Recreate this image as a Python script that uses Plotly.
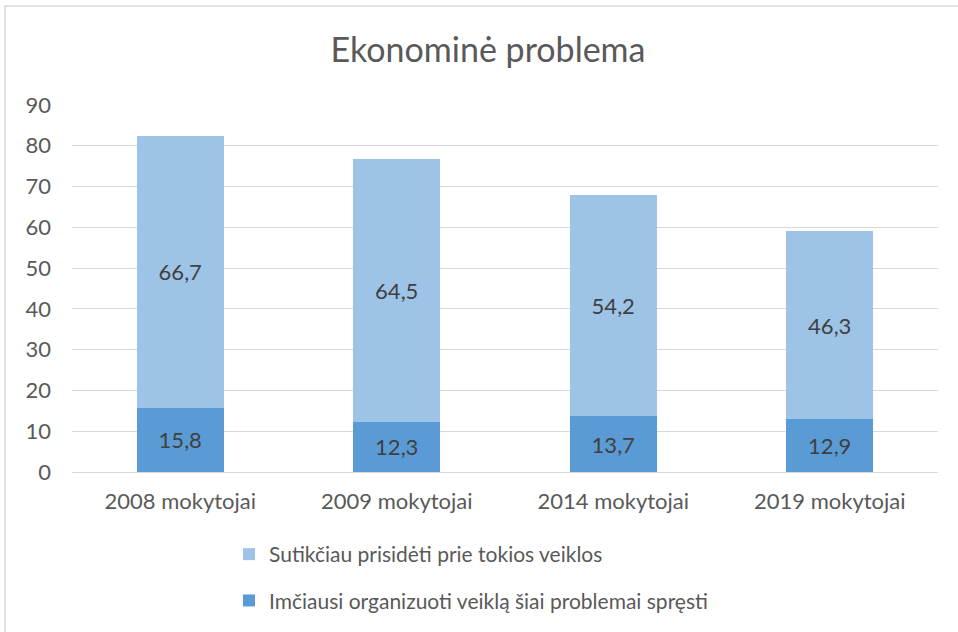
import plotly.graph_objects as go

categories = ["2008 mokytojai", "2009 mokytojai", "2014 mokytojai", "2019 mokytojai"]
organizavo = [15.8, 12.3, 13.7, 12.9]
prisidetu = [66.7, 64.5, 54.2, 46.3]
name_org = "Imčiausi organizuoti veiklą šiai problemai spręsti"
name_pri = "Sutikčiau prisidėti prie tokios veiklos"
title = "Ekonominė problema"

FONT = "Lato"
TXT = "#595959"

def fmt(v):
    return f"{v:.1f}".replace(".", ",")

fig = go.Figure()
fig.add_trace(go.Bar(
    x=categories, y=organizavo, name=name_org, legendgroup="a", legendrank=2,
    marker=dict(color="#5B9BD5", line=dict(width=0)),
    text=[fmt(v) for v in organizavo], textposition="inside",
    insidetextanchor="middle", textfont=dict(color="#404040", size=22, family=FONT),
))
fig.add_trace(go.Bar(
    x=categories, y=prisidetu, name=name_pri, legendgroup="b", legendrank=1,
    marker=dict(color="#9DC3E6", line=dict(width=0)),
    text=[fmt(v) for v in prisidetu], textposition="inside",
    insidetextanchor="middle", textfont=dict(color="#404040", size=22, family=FONT),
))

# figure is slightly taller than the window; the extra strip below is cropped
L, R, T, B = 72, 20, 105, 178
W, H = 958, 650
pw, ph = W - L - R, H - T - B

def px_x(x):
    return (x - L) / pw

def px_y(y):
    return (H - B - y) / ph

fig.update_layout(
    width=W, height=H,
    margin=dict(l=L, r=R, t=T, b=B),
    barmode="stack", bargap=0.6,
    paper_bgcolor="white", plot_bgcolor="white",
    font=dict(family=FONT, color=TXT, size=22),
    title=dict(text=title, x=488 / W, xanchor="center", y=1 - 50 / H, yanchor="middle",
               font=dict(size=34, color=TXT, family=FONT)),
    xaxis=dict(showgrid=False, showline=False, ticks="", tickfont=dict(size=22, color=TXT),
               ticklabelstandoff=14),
    yaxis=dict(range=[0, 90], dtick=10, showgrid=True, gridcolor="#D9D9D9", gridwidth=1.3,
               zeroline=True, zerolinecolor="#D9D9D9", zerolinewidth=1.3,
               showline=False, ticks="", tickfont=dict(size=22, color=TXT),
               ticklabelstandoff=20),
    showlegend=True,
    legend=dict(orientation="v", x=px_x(229), xanchor="left", y=px_y(534), yanchor="top",
                traceorder="grouped", tracegroupgap=16,
                font=dict(size=21, color=TXT, family=FONT), itemwidth=30,
                bgcolor="rgba(0,0,0,0)"),
    shapes=[dict(type="rect", xref="paper", yref="paper",
                 x0=px_x(5), x1=px_x(1000), y0=px_y(6), y1=px_y(700),
                 line=dict(color="#D9D9D9", width=1.5), fillcolor="rgba(0,0,0,0)", layer="below")],
)

fig.write_html("out.html", config={"displayModeBar": False},
               post_script="document.body.style.margin='0';document.body.style.overflow='hidden';")
